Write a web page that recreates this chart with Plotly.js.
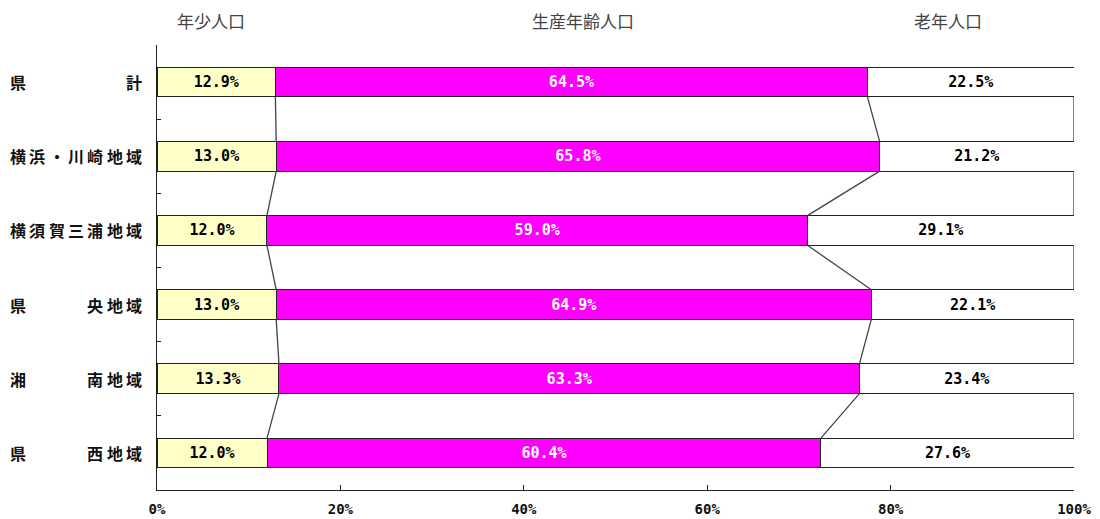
<!DOCTYPE html>
<html>
<head>
<meta charset="utf-8">
<script src="https://cdn.plot.ly/plotly-3.0.1.min.js"></script>
<style>
html,body{margin:0;padding:0;background:#fff;}
#chart{width:1100px;height:519px;}
</style>
</head>
<body>
<div id="chart"></div>
<script>
const categories = ["県　　　計", "横浜・川崎地域", "横須賀三浦地域", "県　　央地域", "湘　　南地域", "県　　西地域"];
const seriesNames = ["年少人口", "生産年齢人口", "老年人口"];
const young   = [12.9, 13.0, 12.0, 13.0, 13.3, 12.0];
const working = [64.5, 65.8, 59.0, 64.9, 63.3, 60.4];
const old     = [22.5, 21.2, 29.1, 22.1, 23.4, 27.6];
const xTickVals = [0, 20, 40, 60, 80, 100];
const xTickText = ["0%", "20%", "40%", "60%", "80%", "100%"];

const seriesValues = [young, working, old];
const seriesColors = ["#FFFFC8", "#FF00FF", "#FFFFFF"];
const textColors = ["#000000", "#FFFFFF", "#000000"];

const M = {l: 157, r: 26, t: 45, b: 29};
const W = 1100, H = 519;
const plotW = W - M.l - M.r, plotH = H - M.t - M.b;
const yPos = categories.map((c, i) => i);
const barWidth = 0.4;

const traces = [];
seriesValues.forEach((vals, k) => {
  traces.push({
    type: 'bar', orientation: 'h', name: seriesNames[k],
    y: yPos, x: vals, width: barWidth,
    marker: {color: seriesColors[k], line: {color: '#222', width: 1}},
    text: vals.map(v => v.toFixed(1) + '%'),
    textposition: 'inside', insidetextanchor: 'middle', textangle: 0,
    constraintext: 'none',
    textfont: {family: 'DejaVu Sans Mono', size: 15, weight: 'bold', color: textColors[k]},
    hoverinfo: 'skip'
  });
});

// series lines (connect stacked boundaries between consecutive bars)
const totals = yPos.map(i => young[i] + working[i] + old[i]);
const cum = [
  yPos.map(i => young[i] / totals[i] * 100),
  yPos.map(i => (young[i] + working[i]) / totals[i] * 100),
  yPos.map(i => 100)
];
cum.forEach(c => {
  const xs = [], ys = [];
  for (let i = 0; i < yPos.length - 1; i++) {
    xs.push(c[i], c[i + 1], null);
    ys.push(yPos[i] + barWidth / 2, yPos[i + 1] - barWidth / 2, null);
  }
  traces.push({type: 'scatter', mode: 'lines', x: xs, y: ys,
    line: {color: '#444', width: 1.3}, hoverinfo: 'skip', showlegend: false});
});

const annotations = [];
// header labels
const headerX = [211, 583, 948];
seriesNames.forEach((n, k) => {
  annotations.push({xref: 'paper', yref: 'paper',
    x: (headerX[k] - M.l) / plotW, y: 1 + (M.t - 20) / plotH,
    text: n, showarrow: false, xanchor: 'center', yanchor: 'middle',
    font: {family: 'Noto Sans CJK JP', size: 17, color: '#444'}});
});
// category labels, distributed over 7 slots
const slotLeft = 10, slotRight = 142, fs = 16, nSlots = 7;
const step = (slotRight - slotLeft - fs) / (nSlots - 1);
categories.forEach((cat, i) => {
  const parts = cat.split(/[\s　]+/).filter(p => p.length);
  let slots = [];
  if (parts.length === 1) {
    [...parts[0]].forEach((ch, j) => slots.push([j, ch]));
  } else {
    [...parts[0]].forEach((ch, j) => slots.push([j, ch]));
    const rc = [...parts[parts.length - 1]];
    rc.forEach((ch, j) => slots.push([nSlots - rc.length + j, ch]));
  }
  slots.forEach(([s, ch]) => {
    const cx = slotLeft + s * step + fs / 2;
    annotations.push({xref: 'paper', yref: 'y', x: (cx - M.l) / plotW, y: yPos[i],
      text: ch, showarrow: false, xanchor: 'center', yanchor: 'middle',
      font: {family: 'Noto Sans CJK JP', size: fs, weight: 'bold', color: '#111'}});
  });
});

const yTicks = [];
for (let i = 0; i <= yPos.length; i++) yTicks.push(i - 0.5);

const layout = {
  width: W, height: H,
  margin: M,
  paper_bgcolor: '#fff', plot_bgcolor: '#fff',
  barmode: 'stack', barnorm: 'percent',
  showlegend: false, hovermode: false,
  xaxis: {range: [0, 100], tickvals: xTickVals, ticktext: xTickText,
    ticks: 'inside', ticklen: 5, tickcolor: '#222', showline: true, linecolor: '#222', linewidth: 1,
    showgrid: false, zeroline: false, ticklabelstandoff: 6,
    tickfont: {family: 'DejaVu Sans Mono', size: 14, weight: 'bold', color: '#111'}},
  yaxis: {range: [yPos.length - 0.5, -0.5], tickvals: yTicks, showticklabels: false,
    ticks: 'inside', ticklen: 4, tickcolor: '#222', showline: true, linecolor: '#222', linewidth: 1,
    showgrid: false, zeroline: false},
  annotations: annotations
};

Plotly.newPlot('chart', traces, layout, {displayModeBar: false, staticPlot: true});
</script>
</body>
</html>
